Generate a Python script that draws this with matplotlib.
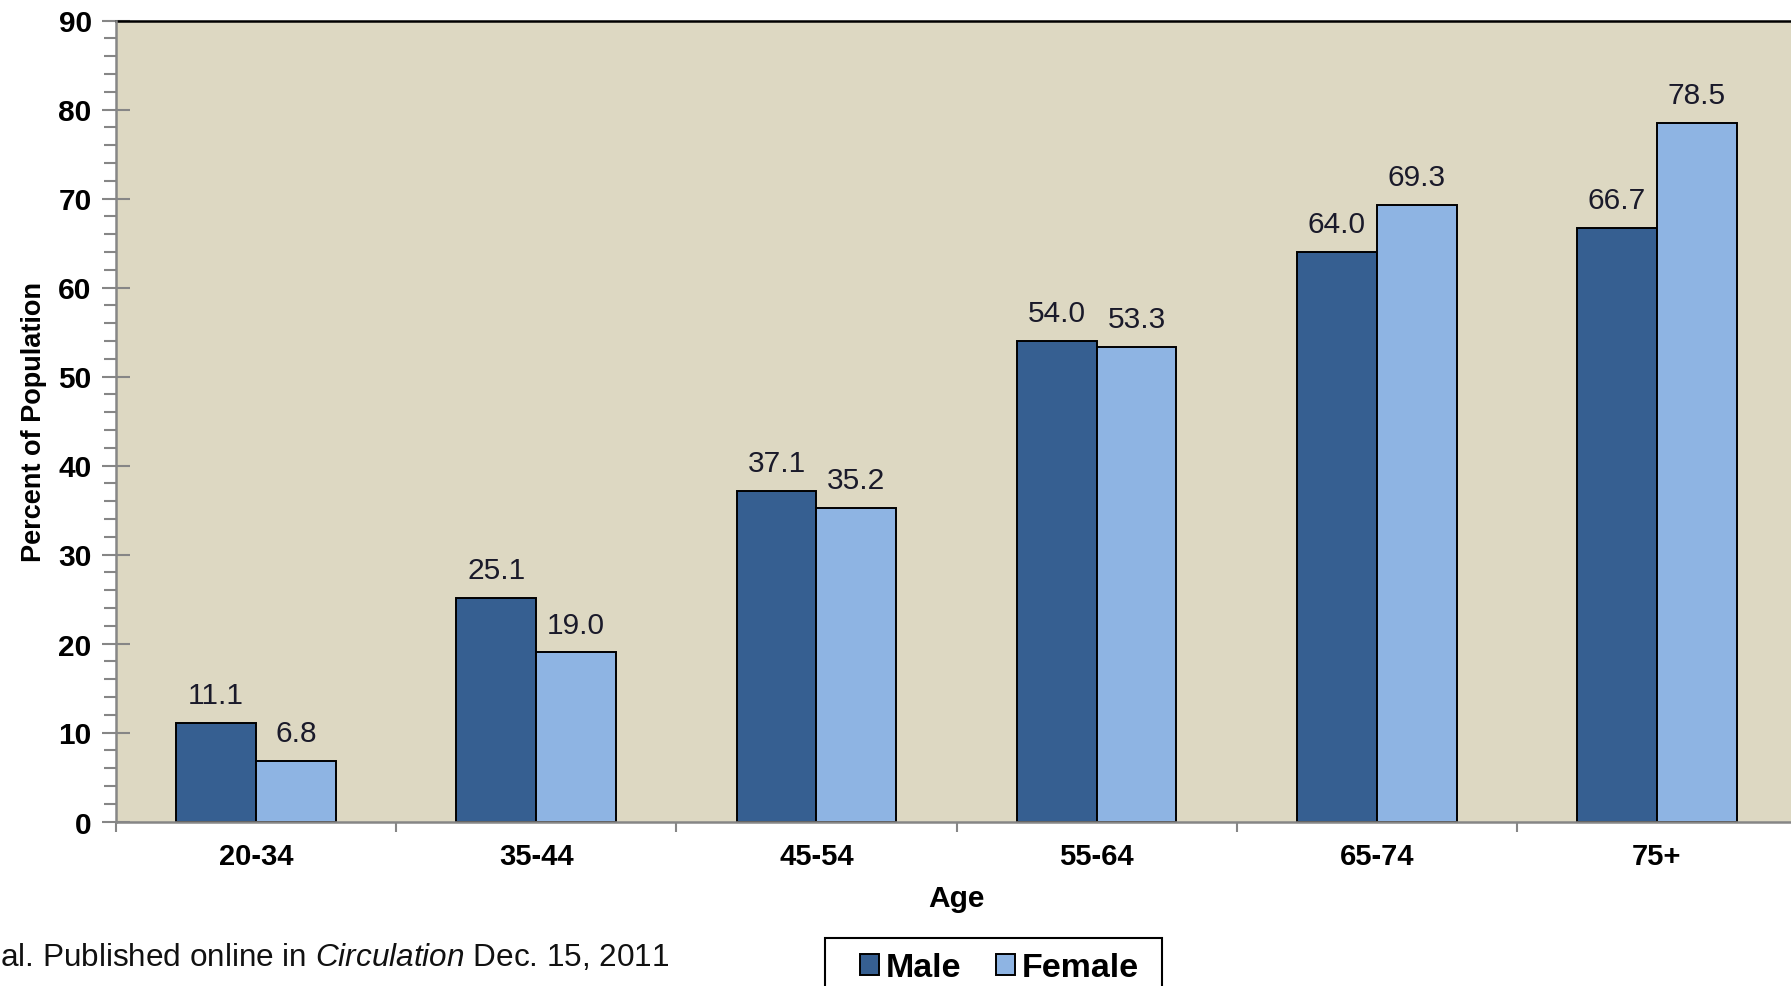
import numpy as np
import matplotlib
matplotlib.use('Agg')
import matplotlib.pyplot as plt
from matplotlib.patches import Patch, Rectangle
from matplotlib.ticker import MultipleLocator

ages = ['20-34', '35-44', '45-54', '55-64', '65-74', '75+']
male = [11.1, 25.1, 37.1, 54.0, 64.0, 66.7]
female = [6.8, 19.0, 35.2, 53.3, 69.3, 78.5]

MALE_COLOR = '#365F91'
FEMALE_COLOR = '#8EB4E3'
BG = '#DDD8C2'
AXIS_GRAY = '#868686'

plt.rcParams['font.family'] = 'Liberation Sans'
plt.rcParams['mathtext.fontset'] = 'custom'
plt.rcParams['mathtext.rm'] = 'Liberation Sans'
plt.rcParams['mathtext.it'] = 'Liberation Sans:italic'

W, H = 1791, 987
fig = plt.figure(figsize=(W / 100, H / 100), dpi=100)
# plot area runs a little past the right edge of the figure
ax = fig.add_axes([116 / W, 1 - 822.5 / H, 1681 / W, (822.5 - 21.5) / H])
ax.set_facecolor(BG)

x = np.arange(len(ages))
w = 0.285
b1 = ax.bar(x - w / 2, male, w, color=MALE_COLOR, edgecolor='black', linewidth=1.4, zorder=2)
b2 = ax.bar(x + w / 2, female, w, color=FEMALE_COLOR, edgecolor='black', linewidth=1.4, zorder=2)

for bars, vals in ((b1, male), (b2, female)):
    for r, v in zip(bars, vals):
        ax.annotate(f'{v:.1f}', (r.get_x() + r.get_width() / 2, v),
                    xytext=(0, 10), textcoords='offset points',
                    ha='center', va='bottom', fontsize=21.5, color='#1a1a2a')

ax.set_xlim(-0.5, len(ages) - 0.5)
ax.set_ylim(0, 90)

ax.set_xticks(x)
ax.set_xticklabels(ages, fontsize=21, fontweight='bold')
ax.set_xticks(np.arange(-0.5, len(ages), 1.0), minor=True)
ax.tick_params(axis='x', which='major', length=0, pad=15)
ax.tick_params(axis='x', which='minor', length=7, width=1.5, color=AXIS_GRAY, direction='out')

ax.yaxis.set_major_locator(MultipleLocator(10))
ax.yaxis.set_minor_locator(MultipleLocator(2))
ax.tick_params(axis='y', which='major', direction='inout', length=20, width=1.5,
               color=AXIS_GRAY, labelsize=21.5, pad=7.5)
ax.tick_params(axis='y', which='minor', direction='out', length=8.5, width=1.5, color=AXIS_GRAY)
for lab in ax.get_yticklabels():
    lab.set_fontweight('bold')

for side in ('left', 'bottom'):
    ax.spines[side].set_color(AXIS_GRAY)
    ax.spines[side].set_linewidth(1.8)
ax.spines['top'].set_color('black')
ax.spines['top'].set_linewidth(1.8)
ax.spines['right'].set_visible(False)
ax.spines['left'].set_zorder(3)

ax.set_xlabel('Age', fontsize=21.5, fontweight='bold', labelpad=10)
ax.set_ylabel('Percent of Population', fontsize=19.5, fontweight='bold', labelpad=8)

# legend entries without their own frame; the box is drawn separately
handles = [Patch(facecolor=MALE_COLOR, edgecolor='black', linewidth=1.4),
           Patch(facecolor=FEMALE_COLOR, edgecolor='black', linewidth=1.4)]
fig.legend(handles, ['Male', 'Female'], loc='center left', ncol=2,
           bbox_to_anchor=(860 / W, 1 - 969 / H),
           prop={'family': 'Liberation Sans', 'weight': 'bold', 'size': 24.5},
           handlelength=0.57, handleheight=0.57, handletextpad=0.2,
           columnspacing=1.0, borderpad=0, borderaxespad=0, frameon=False)
fig.patches.append(Rectangle((825 / W, -0.05), (1162 - 825) / W, 0.05 + 1 - 939 / H,
                             transform=fig.transFigure, fill=False,
                             edgecolor='black', linewidth=1.5))

fig.text(0.0, 1 - 958 / H, r'al. Published online in $\mathit{Circulation}$ Dec. 15, 2011',
         fontsize=22.7, ha='left', va='center', color='#111111')

fig.savefig('out.png', dpi=100)
